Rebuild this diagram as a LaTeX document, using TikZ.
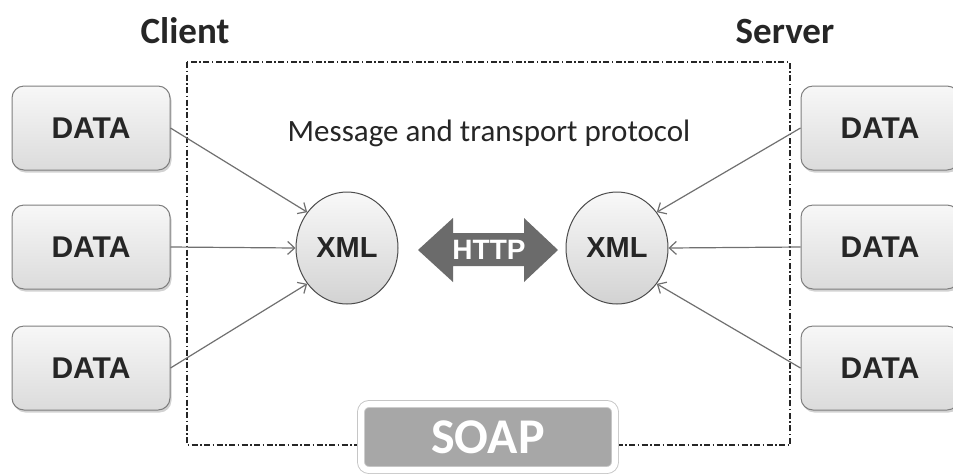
\documentclass[tikz,border=0pt]{standalone}
\usepackage{fontspec}
\setmainfont{Liberation Sans}
\newfontfamily\calfont{Carlito}
\usetikzlibrary{arrows.meta,shadows,shapes.geometric}
\definecolor{boxline}{HTML}{7E7E7E}
\definecolor{arrowgray}{HTML}{707070}
\definecolor{httpgray}{HTML}{6B6B6B}
\definecolor{soapgray}{HTML}{A7A7A7}
\begin{document}
\begin{tikzpicture}[x=1pt,y=-1pt,
  databox/.style={draw=boxline, line width=1pt, rounded corners=12pt,
    minimum width=158pt, minimum height=84pt, top color=gray!6, bottom color=gray!28,
    drop shadow={opacity=0.35, shadow xshift=1.5pt, shadow yshift=-2.5pt},
    font=\bfseries\fontsize{30}{32}\selectfont, text=black!85},
  xmlnode/.style={ellipse, draw=black!70, line width=1pt, minimum width=102pt,
    minimum height=112pt, inner sep=0pt, top color=gray!5, bottom color=gray!35,
    font=\bfseries\fontsize{29}{31}\selectfont, text=black!85},
  feed/.style={draw=arrowgray, line width=1.2pt, -{Straight Barb[length=7pt,width=13pt]}},
  headline/.style={font=\calfont\bfseries\fontsize{37}{39}\selectfont, text=black!85}
]
\useasboundingbox (0,0) rectangle (953,475);
\fill[white] (0,0) rectangle (953,475);

% SOAP frame
\draw[line width=1.3pt, black!85, dash pattern=on 6pt off 2.5pt on 1.5pt off 2.5pt] (187,62) rectangle (790,445);

\node[headline] (client) at (185,31) {Client};
\node[headline] (server) at (785,31) {Server};

\node[font=\calfont\fontsize{31}{33}\selectfont, text=black!85] (msg) at (489,133) {Message and transport protocol};

\node[databox] (dl1) at (91,128) {DATA};
\node[databox] (dl2) at (91,247) {DATA};
\node[databox] (dl3) at (91,368) {DATA};
\node[databox] (dr1) at (880,128) {DATA};
\node[databox] (dr2) at (880,247) {DATA};
\node[databox] (dr3) at (880,368) {DATA};

\node[xmlnode] (xl) at (347,248) {XML};
\node[xmlnode] (xr) at (617,248) {XML};

\draw[feed] (dl1.east) -- (xl.138);
\draw[feed] (dl2.east) -- (xl.west);
\draw[feed] (dl3.east) -- (xl.222);
\draw[feed] (dr1.west) -- (xr.42);
\draw[feed] (dr2.west) -- (xr.east);
\draw[feed] (dr3.west) -- (xr.-42);

% HTTP double arrow
\fill[httpgray] (418,250) -- (453,218) -- (453,233) -- (524,233) -- (524,218) -- (558,250)
  -- (524,282) -- (524,266) -- (453,266) -- (453,282) -- cycle;
\node[text=white, font=\bfseries\fontsize{28}{30}\selectfont] (http) at (489,250) {HTTP};

% SOAP label
\node[draw=gray!45, double=white, double distance=6pt, line width=0.9pt, fill=soapgray,
  rounded corners=8pt, minimum width=254pt, minimum height=66pt, inner sep=0pt,
  text=white, font=\calfont\bfseries\fontsize{50}{52}\selectfont] (soap) at (488,437) {SOAP};
\end{tikzpicture}
\end{document}
